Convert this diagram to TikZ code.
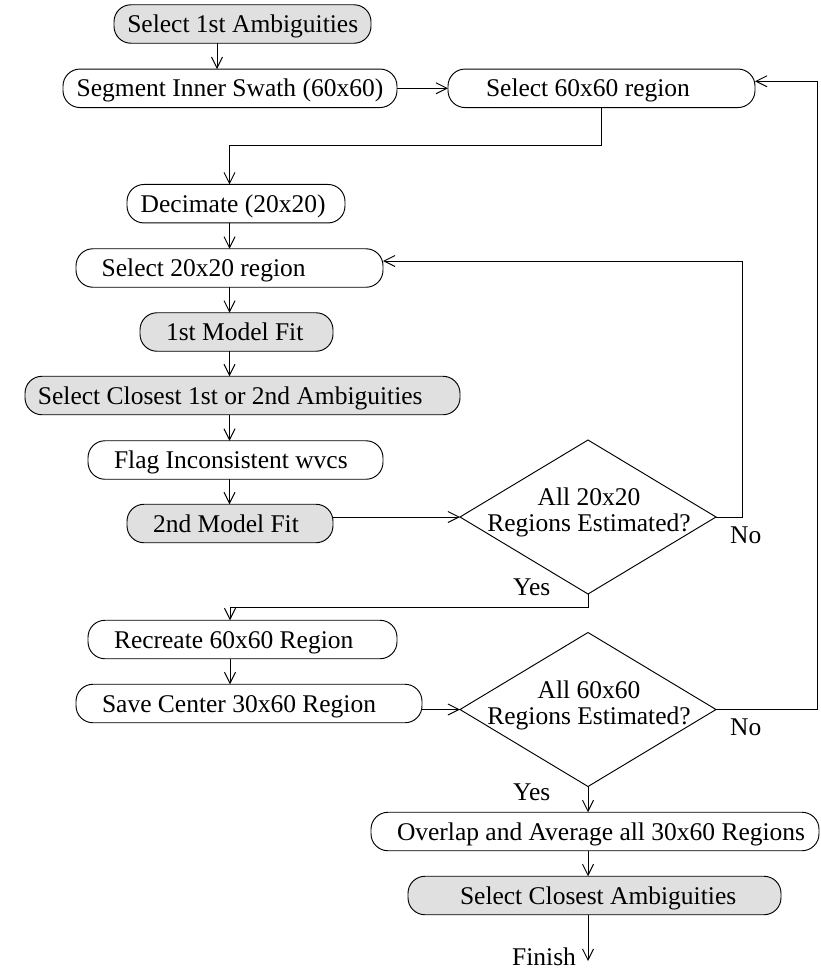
\documentclass[tikz,border=0pt]{standalone}
\usepackage{fontspec}
\setmainfont{Liberation Serif}
\usetikzlibrary{shapes.geometric,arrows.meta}
\definecolor{boxfill}{RGB}{224,224,224}
% text placed at a fixed offset inside a box of fixed width
\newcommand\flowtxt[3]{\makebox[#1pt][l]{\hspace*{#2pt}#3}}
\begin{document}
\begin{tikzpicture}[x=1pt,y=-1pt,
  every node/.style={font=\fontsize{25.5}{26}\selectfont},
  stepbox/.style={draw,line width=0.95pt,rounded corners=17pt,inner xsep=0pt,inner ysep=0pt,
    minimum height=38.5pt,text height=17pt,text depth=0pt,outer sep=0pt},
  shaded/.style={stepbox,fill=boxfill},
  decision/.style={draw,line width=0.95pt,diamond,inner sep=0pt,outer sep=0pt,
    minimum width=256pt,minimum height=154pt},
  arr/.style={line width=0.95pt,-{Straight Barb[length=11pt,width=11pt]}},
  lbl/.style={anchor=base west,inner sep=0pt}]
\useasboundingbox (0,0) rectangle (821,972);

% process steps
\node[shaded]  (sel1)  at (242.5,24)   {\flowtxt{257}{13.3}{Select 1st Ambiguities}};
\node[stepbox] (seg)   at (230,88.3)   {\flowtxt{334}{13.7}{Segment Inner Swath (60x60)}};
\node[stepbox] (sel60) at (601.5,88.3) {\flowtxt{307}{38}{Select 60x60 region}};
\node[stepbox] (dec)   at (236,203.7)  {\flowtxt{218}{13.7}{Decimate (20x20)}};
\node[stepbox] (sel20) at (229.5,268)  {\flowtxt{307}{25.7}{Select 20x20 region}};
\node[shaded]  (fit1)  at (236.5,332)  {\flowtxt{193}{26}{1st Model Fit}};
\node[shaded]  (selc)  at (242.5,395.5){\flowtxt{435}{13}{Select Closest 1st or 2nd Ambiguities}};
\node[stepbox] (flag)  at (235.5,460)  {\flowtxt{295}{26}{Flag Inconsistent wvcs}};
\node[shaded]  (fit2)  at (230,523.5)  {\flowtxt{206}{26}{2nd Model Fit}};
\node[stepbox] (rec)   at (242.5,639.5){\flowtxt{309}{26}{Recreate 60x60 Region}};
\node[stepbox] (save)  at (249,703.5)  {\flowtxt{346}{26}{Save Center 30x60 Region}};
\node[stepbox] (over)  at (595,831.5)  {\flowtxt{448}{26}{Overlap and Average all 30x60 Regions}};
\node[shaded]  (selca) at (594.5,895.5){\flowtxt{373}{52}{Select Closest Ambiguities}};

% decisions
\node[decision] (d1) at (588,517) {};
\node[align=center,inner sep=0pt] (d1t) at (589,512) {All 20x20\\Regions Estimated?};
\node[decision] (d2) at (588,709.5) {};
\node[align=center,inner sep=0pt] (d2t) at (589,705) {All 60x60\\Regions Estimated?};

% branch labels
\node[lbl] (no1)  at (730,543) {No};
\node[lbl] (yes1) at (513,595) {Yes};
\node[lbl] (no2)  at (730,735) {No};
\node[lbl] (yes2) at (513,800) {Yes};
\node[lbl] (fin)  at (512,965) {Finish};
\coordinate (end) at (588,961);

% connectors
\draw[arr] ([xshift=-25.5pt]sel1.south) -- ([xshift=-25.5pt]sel1.south |- seg.north);
\draw[arr] (seg.east) -- (seg.east -| sel60.west);
\draw[arr] (sel60.south) -- ++(0,38) -| (sel20.north |- dec.north);
\draw[arr] (sel20.north |- dec.south) -- (sel20.north);
\draw[arr] (sel20.south) -- (sel20.south |- fit1.north);
\draw[arr] (sel20.south |- fit1.south) -- (sel20.south |- selc.north);
\draw[arr] (sel20.south |- selc.south) -- (sel20.south |- flag.north);
\draw[arr] (sel20.south |- flag.south) -- (sel20.south |- fit2.north);
\draw[arr] (fit2.east |- d1.west) -- (d1.west);
\draw[arr] (d1.east) -- ++(26,0) |- ([yshift=7pt]sel20.east);
\draw[arr] (d1.south) -- ++(0,13) -| (fit2.south |- rec.north);
\draw[arr] (fit2.south |- rec.south) -- (fit2.south |- save.north);
\draw[arr] (save.east |- d2.west) -- (d2.west);
\draw[arr] (d2.east) -- ++(101,0) |- ([yshift=7pt]sel60.east);
\draw[arr] (d2.south) -- (d2.south |- over.north);
\draw[arr] (d2.south |- over.south) -- (d2.south |- selca.north);
\draw[arr] (d2.south |- selca.south) -- (end);
\end{tikzpicture}
\end{document}
